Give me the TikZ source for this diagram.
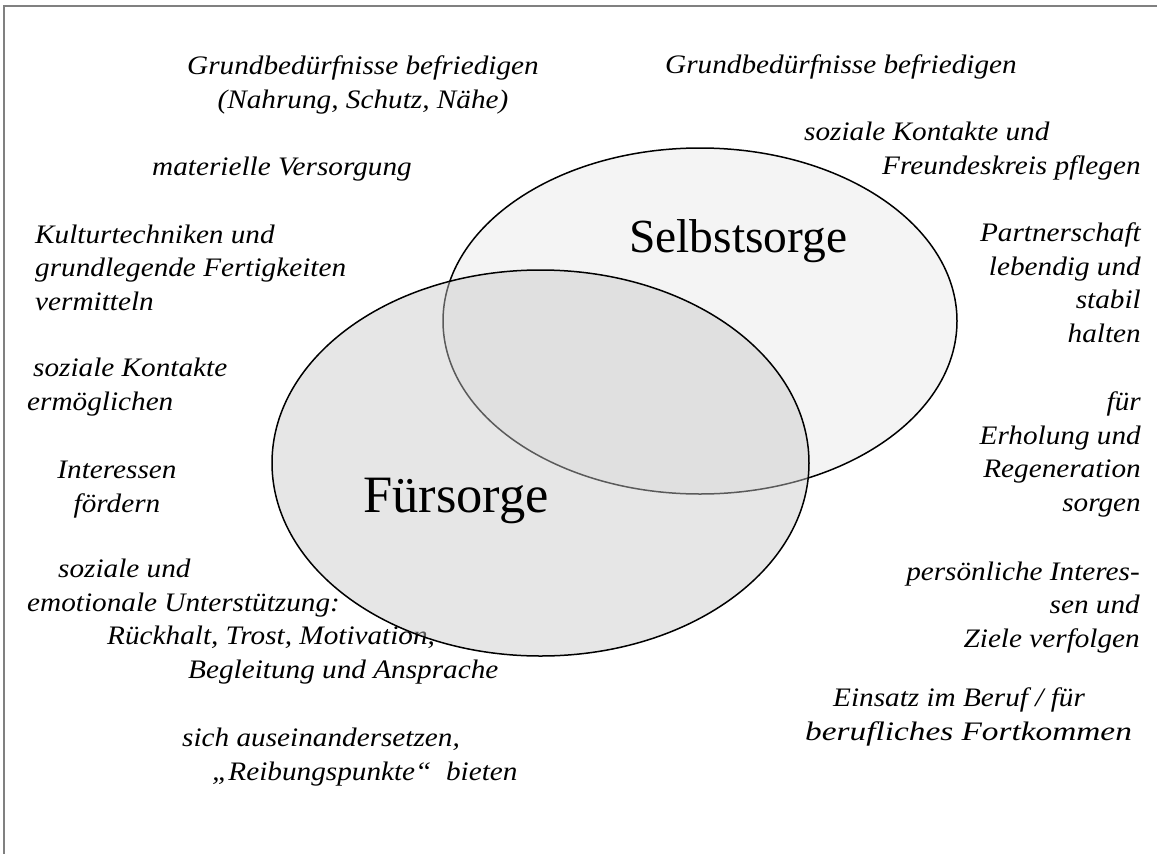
\documentclass[tikz,border=0pt]{standalone}
\usepackage{fontspec}
\setmainfont{Liberation Serif}
\newfontfamily\notefont{Liberation Serif}[FakeStretch=1.095]
\usetikzlibrary{shapes.geometric}

\definecolor{framegray}{RGB}{128,128,128}
\definecolor{selbstfill}{RGB}{244,244,244}
\definecolor{fuerfill}{RGB}{200,200,200}

\tikzset{
  note/.style={font=\notefont\itshape\fontsize{26.7}{33.5}\selectfont, inner sep=0pt},
  circle label/.style={inner sep=0pt, anchor=base west},
  area/.style={ellipse, draw=black, line width=1.5pt, inner sep=0pt},
}

\begin{document}
\begin{tikzpicture}[x=1pt, y=-1pt]
\useasboundingbox (0,0) rectangle (1157,854);

% page frame
\coordinate (fbl) at (4,854);
\coordinate (ftl) at (4,6);
\coordinate (ftr) at (1157,6);
\draw[framegray, line width=2pt] (fbl) -- (ftl) -- (ftr);

% left column: tasks of care for others
% (multi-line notes are placed by the baseline of their last line)
\node[note, anchor=base, align=center] (grundL) at (363,108)
  {Grundbedürfnisse befriedigen\\(Nahrung, Schutz, Nähe)};
\node[note, anchor=base west] (material) at (152,175) {materielle Versorgung};
\node[note, anchor=base west, align=left] (kultur) at (35,310)
  {Kulturtechniken und\\grundlegende Fertigkeiten\\vermitteln};
\node[note, anchor=base west, align=left] (kontakteL) at (27,410)
  {\hspace*{6pt}soziale Kontakte\\ermöglichen};
\node[note, anchor=base, align=center] (interessen) at (117,512)
  {Interessen\\fördern};
\node[note, anchor=base west, align=left] (emotional) at (27,678)
  {\hspace*{31pt}soziale und\\emotionale Unterstützung:\\\hspace*{80pt}Rückhalt, Trost, Motivation,\\\hspace*{161pt}Begleitung und Ansprache};
\node[note, anchor=base west, align=left] (reibung) at (182,780)
  {sich auseinandersetzen,\\\hspace*{30pt}„Reibungspunkte“\ \ bieten};

% right column: tasks of self-care
\node[note, anchor=base west] (grundR) at (665,73) {Grundbedürfnisse befriedigen};
\node[note, anchor=base west, align=left] (freunde) at (804,174)
  {soziale Kontakte und\\\hspace*{78pt}Freundeskreis pflegen};
\node[note, anchor=base east, align=right] (partner) at (1141,342)
  {Partnerschaft\\lebendig und\\stabil\\halten};
\node[note, anchor=base east, align=right] (erholung) at (1141,511)
  {für\\Erholung und\\Regeneration\\sorgen};
\node[note, anchor=base east, align=right] (ziele) at (1140,647)
  {persönliche Interes-\\sen und\\Ziele verfolgen};
\node[note, anchor=base west, align=left] (beruf) at (805,740)
  {\hspace*{28pt}Einsatz im Beruf / für\\\scalebox{1.14}[1]{berufliches Fortkommen}};

% the two overlapping areas
\node[area, fill=selbstfill, minimum width=514pt, minimum height=346pt] (selbst) at (700,321) {};
\node[area, fill=fuerfill, fill opacity=0.45, minimum width=537pt, minimum height=386pt] (fuer) at (540.5,463) {};

\node[circle label, font=\fontsize{47.5}{50}\selectfont] (selbstname) at (629,252) {Selbstsorge};
\node[circle label, font=\fontsize{52.5}{55}\selectfont] (fuername) at (363,512) {Fürsorge};
\end{tikzpicture}
\end{document}
